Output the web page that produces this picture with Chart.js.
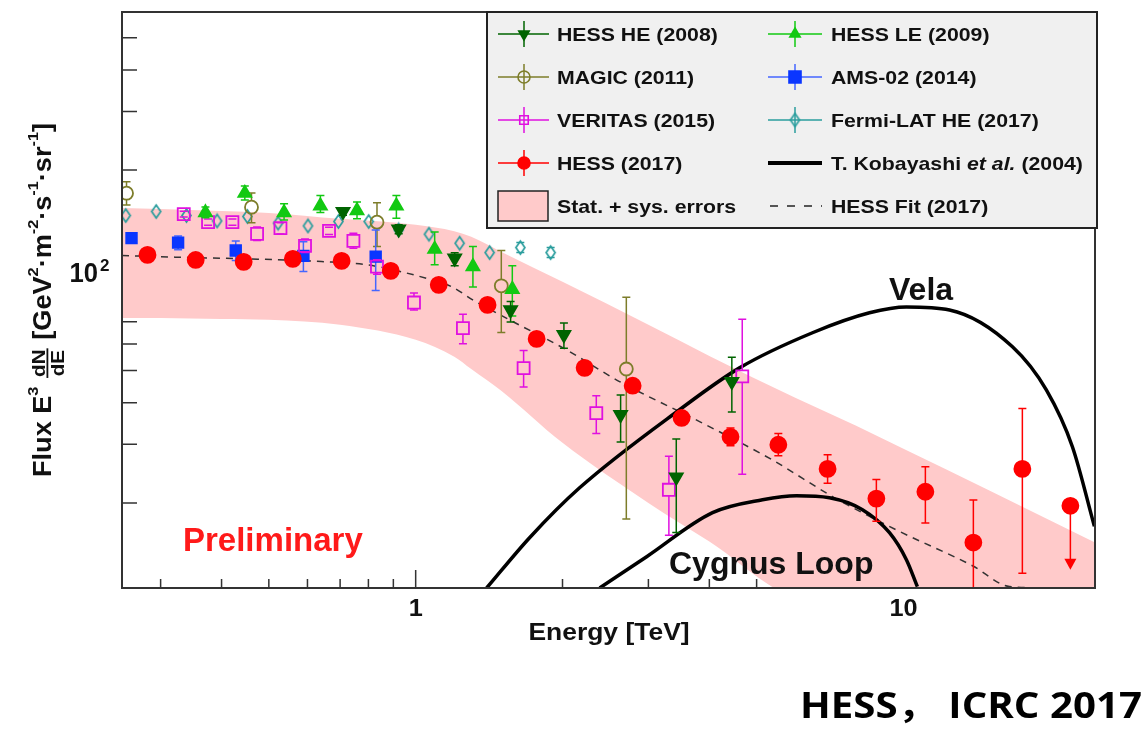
<!DOCTYPE html>
<html lang="en">
<head>
<meta charset="UTF-8">
<title>Electron spectrum - HESS ICRC 2017</title>
<script src="https://cdn.jsdelivr.net/npm/chart.js"></script>
<style>
    html, body { margin: 0; padding: 0; background: #fff; }
    #wrap { position: relative; width: 1144px; height: 731px; }
</style>
</head>
<body>
<div id="wrap"><canvas id="spectrum" width="1144" height="731"></canvas></div>

<script>
// Energy in TeV, flux E^3 dN/dE in GeV^2 m^-2 s^-1 sr^-1

// HESS (2017)
const hessE    = [0.282, 0.354, 0.444, 0.560, 0.705, 0.889, 1.115, 1.404, 1.770, 2.220, 2.785, 3.509, 4.42, 5.54, 6.99, 8.80, 11.09, 13.91, 17.53, 21.99];
const hessFlux = [111.2, 107.4, 106.0, 108.2, 106.7, 99.6, 90.4, 78.7, 62.2, 50.9, 45.0, 36.0, 31.6, 29.9, 25.3, 20.6, 21.6, 15.2, 25.3, 19.6];
const hessLow  = [null, null, null, null, null, null, null, null, null, null, null, null, 29.7, 27.7, 22.9, 17.6, 17.4, 11.1, 12.3, 12.6];
const hessHigh = [null, null, null, null, null, null, null, null, null, null, null, null, 33.6, 32.3, 27.9, 23.5, 25.7, 20.4, 38.4, null];
const hessLimit = [false, false, false, false, false, false, false, false, false, false, false, false, false, false, false, false, false, false, false, true];

// HESS HE (2008)
const hessHeE    = [0.7097, 0.9229, 1.2023, 1.5654, 2.0133, 2.6312, 3.4218, 4.448];
const hessHeFlux = [150.1, 132.9, 108.7, 76.0, 64.0, 36.8, 23.9, 46.3];
const hessHeLow  = [146.3, 128.8, 103.1, 69.9, 58.3, 30.5, 16.3, 37.5];
const hessHeHigh = [153.9, 137.1, 112.8, 80.5, 69.4, 42.2, 31.1, 54.8];

// HESS LE (2009)
const hessLeE    = [0.3707, 0.4464, 0.5373, 0.6378, 0.7581, 0.9130, 1.0938, 1.3103, 1.578];
const hessLeFlux = [149.0, 170.4, 149.0, 156.1, 151.1, 156.1, 115.7, 102.6, 87.7];
const hessLeLow  = [143.7, 162.7, 141.7, 149.0, 142.7, 143.4, 103.8, 89.0, 72.9];
const hessLeHigh = [155.0, 179.2, 158.3, 167.6, 160.5, 167.6, 130.4, 117.8, 103.1];

// MAGIC (2011)
const magicE    = [0.2554, 0.4607, 0.8331, 1.4981, 2.703];
const magicFlux = [170.4, 154.7, 139.5, 89.8, 50.5];
const magicLow  = [157.2, 138.8, 117.8, 65.0, 17.9];
const magicHigh = [184.6, 170.8, 159.4, 114.6, 83.0];

// AMS-02 (2014)
const amsE    = [0.2615, 0.3258, 0.4277, 0.5886, 0.828];
const amsFlux = [124.9, 121.1, 114.6, 110.5, 109.9];
const amsLow  = [120.9, 115.2, 106.9, 99.1, 86.9];
const amsHigh = [129.5, 126.8, 122.5, 121.9, 132.2];

// VERITAS (2015)
const veritasE    = [0.3346, 0.3753, 0.4210, 0.4730, 0.5282, 0.5931, 0.6643, 0.7453, 0.8331, 0.9920, 1.2500, 1.6645, 2.3457, 3.3045, 4.672];
const veritasFlux = [147.4, 139.5, 139.5, 128.6, 133.8, 118.4, 131.3, 122.5, 102.6, 80.0, 67.0, 50.8, 37.2, 21.9, 48.0];
const veritasLow  = [144.5, 136.5, 136.5, 122.8, 128.6, 113.0, 128.0, 116.5, 97.3, 76.0, 60.1, 44.6, 32.3, 16.0, 24.4];
const veritasHigh = [150.4, 142.5, 142.5, 135.0, 138.8, 124.2, 134.6, 129.2, 107.5, 85.4, 73.8, 57.4, 42.0, 27.6, 71.3];

// Fermi-LAT HE (2017)
const fermiE    = [0.2545, 0.2937, 0.3389, 0.3916, 0.4519, 0.5223, 0.6015, 0.6944, 0.8011, 0.9229, 1.0648, 1.2307, 1.4180, 1.6388, 1.8909];
const fermiFlux = [146.0, 150.1, 146.0, 140.7, 145.0, 138.5, 135.9, 140.1, 140.1, 132.2, 128.3, 120.6, 113.0, 117.0, 113.0];
const fermiLow  = [null, null, null, null, null, null, null, null, null, null, null, null, null, 113.0, 109.2];
const fermiHigh = [null, null, null, null, null, null, null, null, null, null, null, null, null, 121.1, 117.0];

// HESS fit (2017), dashed
const fitE    = [0.25, 0.3208, 0.4746, 0.641, 0.797, 0.9494, 1.077, 1.184, 1.309, 1.534, 2.036, 2.618, 3.819, 5.39, 7.152, 9.66, 13.85, 16.49, 20, 24.7];
const fitFlux = [110.7, 109.5, 108.0, 106.2, 103.8, 98.4, 93.6, 89.3, 81.5, 71.8, 57.7, 46.3, 35.1, 26.9, 20.9, 16.6, 12.95, 11.22, 11.1, 11.1];

// Stat. + sys. error band
const bandE    = [0.25, 0.3, 0.4, 0.5, 0.7, 1, 1.2, 1.3, 1.5, 2, 3, 4, 6, 8, 10, 15, 20, 24.7];
const bandHigh = [153.9, 152.9, 150.8, 148.7, 142.7, 136.9, 130.9, 126.0, 113.5, 92.3, 68.6, 55.3, 41.4, 34.1, 29.1, 21.8, 17.7, 15.2];
const bandLow  = [71.9, 71.9, 71.4, 71.0, 68.6, 61.8, 55.0, 50.5, 43.4, 30.3, 20.0, 15.3, 10.4, 10, 10, 10, 10, 10];

// T. Kobayashi et al. (2004) sources
const velaE    = [1.398, 1.712, 2.168, 3.475, 4.613, 6.509, 8.518, 10.14, 12.43, 16.73, 19.63, 22.20, 24.63];
const velaFlux = [11.1, 15.72, 22.2, 38.1, 50.9, 64.9, 74.5, 77.6, 76.0, 58.9, 43.7, 29.5, 17.0];
const cygE     = [2.383, 2.975, 4.061, 5.142, 6.035, 7.052, 8.241, 9.362, 10.14, 10.68];
const cygFlux  = [11.1, 13.78, 18.69, 20.43, 21.01, 20.72, 19.08, 16.27, 13.5, 11.2];

// axes
const xMajorTicks = [1, 10];
const xTickLabels = ['1', '10'];
const xMinorTicks = [0.3, 0.4, 0.5, 0.6, 0.7, 0.8, 0.9, 2, 3, 4, 5, 6, 7, 8, 9, 20];
const yMajorTicks = [100];
const yTickLabels = [['10', '2']];
const yMinorTicks = [20, 30, 40, 50, 60, 70, 80, 90, 200, 300, 400, 500];

const ROOT_FONT = '"Liberation Sans", Arial, sans-serif';
const C = {
    hess: '#ff0000', hessHe: '#006400', hessLe: '#12c912', magic: '#7d7d2a',
    ams: '#0a36ff', amsErr: '#4466ff', veritas: '#e010e0', fermi: '#2a9d9d', band: '#ffcaca'
};

const pts = (xs, ys) => xs.map((e, i) => ({ x: e, y: ys[i] }));

function stretchText(ctx, text, x, y, font, sx, align) {
    ctx.save();
    ctx.font = font;
    ctx.textAlign = align || 'left';
    ctx.textBaseline = 'alphabetic';
    ctx.translate(x, y);
    ctx.scale(sx, 1);
    ctx.fillText(text, 0, 0);
    ctx.restore();
}

// narrow open diamond like ROOT marker 27
function diamondImage(color, w, h) {
    const cv = document.createElement('canvas');
    cv.width = w + 4; cv.height = h + 4;
    const g = cv.getContext('2d');
    g.strokeStyle = color; g.lineWidth = 1.7;
    g.beginPath();
    g.moveTo(cv.width / 2, 2); g.lineTo(cv.width - 2, cv.height / 2);
    g.lineTo(cv.width / 2, cv.height - 2); g.lineTo(2, cv.height / 2);
    g.closePath(); g.stroke();
    return cv;
}
const fermiDiamond = diamondImage(C.fermi, 9, 13);

// legend markers, same shapes as the chart points
function drawMarker(ctx, shape, x, y, r, color, filled, rot) {
    if (shape === 'diamond') {
        ctx.drawImage(fermiDiamond, x - fermiDiamond.width / 2, y - fermiDiamond.height / 2);
        return;
    }
    ctx.save();
    ctx.beginPath();
    if (shape === 'circle') {
        ctx.arc(x, y, r, 0, Math.PI * 2);
    } else if (shape === 'rect') {
        const s = r * Math.SQRT1_2;
        ctx.rect(x - s, y - s, 2 * s, 2 * s);
    } else if (shape === 'triangle') {
        let a = (rot || 0) * Math.PI / 180;
        for (let k = 0; k < 3; k++) {
            const px = x + Math.sin(a) * r, py = y - Math.cos(a) * r;
            k ? ctx.lineTo(px, py) : ctx.moveTo(px, py);
            a += Math.PI * 2 / 3;
        }
        ctx.closePath();
    }
    if (filled) { ctx.fillStyle = color; ctx.fill(); }
    ctx.strokeStyle = color; ctx.lineWidth = 1.6; ctx.stroke();
    ctx.restore();
}

const legendRows = [34, 77, 120, 163, 206];
const legendItems = [
    { col: 0, row: 0, text: 'HESS HE (2008)', color: C.hessHe, shape: 'triangle', rot: 180, filled: true },
    { col: 1, row: 0, text: 'HESS LE (2009)', color: C.hessLe, shape: 'triangle', rot: 0, filled: true },
    { col: 0, row: 1, text: 'MAGIC (2011)', color: C.magic, shape: 'circle', filled: false },
    { col: 1, row: 1, text: 'AMS-02 (2014)', color: C.ams, shape: 'rect', filled: true, line: C.amsErr },
    { col: 0, row: 2, text: 'VERITAS (2015)', color: C.veritas, shape: 'rect', filled: false },
    { col: 1, row: 2, text: 'Fermi-LAT HE (2017)', color: C.fermi, shape: 'diamond', filled: false },
    { col: 0, row: 3, text: 'HESS (2017)', color: C.hess, shape: 'circle', filled: true },
    { col: 1, row: 3, text: 'kobayashi' },
    { col: 0, row: 4, text: 'Stat. + sys. errors' },
    { col: 1, row: 4, text: 'HESS Fit (2017)' }
];

const rootStyle = {
    id: 'rootStyle',
    beforeDatasetsDraw(chart) {
        const { ctx, chartArea: a, scales: { x, y } } = chart;
        ctx.save();
        ctx.strokeStyle = '#333';
        ctx.lineWidth = 1.5;
        ctx.beginPath();
        xMinorTicks.forEach(v => { const p = x.getPixelForValue(v); ctx.moveTo(p, a.bottom); ctx.lineTo(p, a.bottom - 9); });
        xMajorTicks.forEach(v => { const p = x.getPixelForValue(v); ctx.moveTo(p, a.bottom); ctx.lineTo(p, a.bottom - 18); });
        yMinorTicks.forEach(v => { const p = y.getPixelForValue(v); ctx.moveTo(a.left, p); ctx.lineTo(a.left + 15, p); });
        yMajorTicks.forEach(v => { const p = y.getPixelForValue(v); ctx.moveTo(a.left, p); ctx.lineTo(a.left + 30, p); });
        ctx.stroke();
        ctx.restore();
    },
    // error bars go under their own markers, ROOT style with end caps
    beforeDatasetDraw(chart, args) {
        const ds = chart.data.datasets[args.index];
        if (!ds.errLow) return;
        const { ctx, chartArea: a, scales: { x, y } } = chart;
        const gap = ds.errGap || 0;
        ctx.save();
        ctx.beginPath();
        ctx.rect(a.left, a.top, a.right - a.left, a.bottom - a.top);
        ctx.clip();
        ctx.strokeStyle = ds.errColor || ds.borderColor;
        ctx.fillStyle = ds.errColor || ds.borderColor;
        ctx.lineWidth = 1.5;
        ds.data.forEach((p, i) => {
            const px = x.getPixelForValue(p.x), py = y.getPixelForValue(p.y);
            const lo = ds.errLow[i], hi = ds.errHigh[i];
            if (ds.limit && ds.limit[i]) {
                const tip = y.getPixelForValue(lo);
                ctx.beginPath();
                ctx.moveTo(px, py); ctx.lineTo(px, tip - 8); ctx.stroke();
                ctx.beginPath();
                ctx.moveTo(px - 6, tip - 11); ctx.lineTo(px + 6, tip - 11); ctx.lineTo(px, tip); ctx.closePath(); ctx.fill();
                return;
            }
            if (lo == null || hi == null) return;
            const y1 = y.getPixelForValue(hi), y2 = y.getPixelForValue(lo);
            ctx.beginPath();
            if (py - gap > y1) { ctx.moveTo(px, y1); ctx.lineTo(px, py - gap); }
            if (py + gap < y2) { ctx.moveTo(px, py + gap); ctx.lineTo(px, y2); }
            ctx.moveTo(px - 4, y1); ctx.lineTo(px + 4, y1);
            ctx.moveTo(px - 4, y2); ctx.lineTo(px + 4, y2);
            ctx.stroke();
        });
        ctx.restore();
    },
    afterDatasetsDraw(chart) {
        const { ctx, chartArea: a } = chart;
        ctx.save();
        ctx.strokeStyle = '#333';
        ctx.lineWidth = 2;
        ctx.strokeRect(a.left, a.top, a.right - a.left, a.bottom - a.top);
        ctx.restore();
    },
    afterDraw(chart) {
        const { ctx, scales: { x, y } } = chart;
        ctx.save();
        ctx.fillStyle = '#111';

        // tick labels
        xMajorTicks.forEach((v, i) => stretchText(ctx, xTickLabels[i], x.getPixelForValue(v), 616, 'bold 23px ' + ROOT_FONT, 1.1, 'center'));
        yMajorTicks.forEach((v, i) => {
            const p = y.getPixelForValue(v);
            stretchText(ctx, yTickLabels[i][0], 98, p + 12, 'bold 27px ' + ROOT_FONT, 0.95, 'right');
            stretchText(ctx, yTickLabels[i][1], 100, p + 1, 'bold 17px ' + ROOT_FONT, 1, 'left');
        });

        // axis titles
        stretchText(ctx, 'Energy [TeV]', 609, 640, 'bold 23px ' + ROOT_FONT, 1.15, 'center');
        drawYTitle(ctx);

        // annotations
        ctx.fillStyle = '#ff1a1a';
        stretchText(ctx, 'Preliminary', 183, 551, 'bold 33px ' + ROOT_FONT, 1, 'left');
        ctx.fillStyle = '#111';
        stretchText(ctx, 'Vela', 889, 300, 'bold 32px ' + ROOT_FONT, 1, 'left');
        stretchText(ctx, 'Cygnus Loop', 669, 574, 'bold 32px ' + ROOT_FONT, 1, 'left');

        // slide caption, fitted to its width in the picture
        const capFont = 'bold 35px "Open Sans", "Noto Sans CJK SC", sans-serif';
        const caption = 'HESS\uff0c ICRC 2017';
        ctx.font = capFont;
        const capScale = 342 / ctx.measureText(caption).width;
        ctx.fillStyle = '#000';
        stretchText(ctx, caption, 1142, 718, capFont, capScale, 'right');

        drawLegend(ctx);
        ctx.restore();
    }
};

function drawYTitle(ctx) {
    const main = 'bold 25px ' + ROOT_FONT, sup = 'bold 15px ' + ROOT_FONT, frac = 'bold 19px ' + ROOT_FONT;
    const parts = [
        ['Flux E', main, 0], ['3', sup, -13], [' ', main, 0], ['frac'],
        [' [GeV', main, 0], ['2', sup, -13], ['\u00b7m', main, 0], ['-2', sup, -13],
        ['\u00b7s', main, 0], ['-1', sup, -13], ['\u00b7sr', main, 0], ['-1', sup, -13], [']', main, 0]
    ];
    ctx.save();
    ctx.font = frac;
    const fracW = Math.max(ctx.measureText('dN').width, ctx.measureText('dE').width) + 4;
    let total = 0;
    parts.forEach(p => { if (p[0] === 'frac') { total += fracW; } else { ctx.font = p[1]; total += ctx.measureText(p[0]).width; } });
    const sx = 354 / total;
    ctx.translate(51, 477);
    ctx.rotate(-Math.PI / 2);
    ctx.scale(sx, 1);
    ctx.fillStyle = '#111';
    ctx.textBaseline = 'alphabetic';
    ctx.textAlign = 'left';
    let cx = 0;
    parts.forEach(p => {
        if (p[0] === 'frac') {
            ctx.font = frac;
            ctx.textAlign = 'center';
            ctx.fillText('dN', cx + fracW / 2, -6);
            ctx.fillText('dE', cx + fracW / 2, 13);
            ctx.fillRect(cx + 1, -4.5, fracW - 2, 1.8);
            ctx.textAlign = 'left';
            cx += fracW;
            return;
        }
        ctx.font = p[1];
        ctx.fillText(p[0], cx, p[2]);
        cx += ctx.measureText(p[0]).width;
    });
    ctx.restore();
}

function drawLegend(ctx) {
    const box = { left: 487, top: 12, right: 1097, bottom: 228 };
    const cols = [{ l0: 498, l1: 549, m: 524, t: 557 }, { l0: 768, l1: 822, m: 795, t: 831 }];
    const font = 'bold 19px ' + ROOT_FONT, sx = 1.12;
    ctx.save();
    ctx.fillStyle = '#f0f0f0';
    ctx.fillRect(box.left, box.top, box.right - box.left, box.bottom - box.top);
    ctx.strokeStyle = '#222';
    ctx.lineWidth = 2;
    ctx.strokeRect(box.left, box.top, box.right - box.left, box.bottom - box.top);

    legendItems.forEach(it => {
        const c = cols[it.col], yc = legendRows[it.row];
        ctx.fillStyle = '#111';
        if (it.shape) {
            ctx.strokeStyle = it.line || it.color;
            ctx.lineWidth = 1.5;
            ctx.beginPath();
            ctx.moveTo(c.l0, yc); ctx.lineTo(c.l1, yc);
            ctx.moveTo(c.m, yc - 13); ctx.lineTo(c.m, yc + 13);
            ctx.stroke();
            drawMarker(ctx, it.shape, c.m, yc, it.shape === 'rect' && it.filled ? 8.5 : 6, it.color, it.filled, it.rot);
            stretchText(ctx, it.text, c.t, yc + 7, font, sx, 'left');
        } else if (it.text === 'kobayashi') {
            ctx.strokeStyle = '#000';
            ctx.lineWidth = 4;
            ctx.beginPath(); ctx.moveTo(c.l0, yc); ctx.lineTo(c.l1, yc); ctx.stroke();
            let cx = c.t;
            [['T. Kobayashi ', font], ['et al.', 'italic ' + font], [' (2004)', font]].forEach(seg => {
                ctx.font = seg[1];
                stretchText(ctx, seg[0], cx, yc + 7, seg[1], sx, 'left');
                cx += ctx.measureText(seg[0]).width * sx;
            });
        } else if (it.col === 0) {
            ctx.fillStyle = C.band;
            ctx.fillRect(498, yc - 15, 50, 30);
            ctx.strokeStyle = '#222'; ctx.lineWidth = 1.5;
            ctx.strokeRect(498, yc - 15, 50, 30);
            ctx.fillStyle = '#111';
            stretchText(ctx, it.text, c.t, yc + 7, font, sx, 'left');
        } else {
            ctx.strokeStyle = '#222'; ctx.lineWidth = 1.5;
            ctx.setLineDash([8, 9]);
            ctx.beginPath(); ctx.moveTo(c.l0 + 2, yc); ctx.lineTo(c.l1, yc); ctx.stroke();
            ctx.setLineDash([]);
            stretchText(ctx, it.text, c.t, yc + 7, font, sx, 'left');
        }
    });
    ctx.restore();
}

const marker = (data, color, style, r, filled, extra) => Object.assign({
    data: data, showLine: false, pointStyle: style, pointRadius: r, pointHoverRadius: r,
    borderColor: color, backgroundColor: filled ? color : 'rgba(0,0,0,0)', pointBorderWidth: 1.8
}, extra);

const curve = (data, color, width, dash, order) => ({
    data: data, showLine: true, pointRadius: 0, borderColor: color, borderWidth: width,
    borderDash: dash, cubicInterpolationMode: 'monotone', fill: false, order: order
});

new Chart(document.getElementById('spectrum'), {
    type: 'scatter',
    data: {
        datasets: [
            { data: pts(bandE, bandLow), showLine: true, pointRadius: 0, borderColor: 'rgba(0,0,0,0)', borderWidth: 1,
              cubicInterpolationMode: 'monotone', fill: false, order: 100 },
            { data: pts(bandE, bandHigh), showLine: true, pointRadius: 0, borderColor: 'rgba(0,0,0,0)', borderWidth: 1,
              cubicInterpolationMode: 'monotone', fill: '-1', backgroundColor: C.band, order: 99 },
            curve(pts(fitE, fitFlux), '#333', 1.5, [7, 6], 90),
            curve(pts(velaE, velaFlux), '#000', 3.5, [], 80),
            curve(pts(cygE, cygFlux), '#000', 3.5, [], 80),
            marker(pts(fermiE, fermiFlux), C.fermi, fermiDiamond, 7, false, { errLow: fermiLow, errHigh: fermiHigh, errGap: 8, order: 7 }),
            marker(pts(magicE, magicFlux), C.magic, 'circle', 6.5, false, { errLow: magicLow, errHigh: magicHigh, errGap: 6.5, order: 6 }),
            marker(pts(amsE, amsFlux), C.ams, 'rect', 7.5, true, { errLow: amsLow, errHigh: amsHigh, errColor: C.amsErr, errGap: 5, order: 5 }),
            marker(pts(veritasE, veritasFlux), C.veritas, 'rect', 8.5, false, { errLow: veritasLow, errHigh: veritasHigh, errGap: 6, order: 4 }),
            marker(pts(hessLeE, hessLeFlux), C.hessLe, 'triangle', 7.5, true, { errLow: hessLeLow, errHigh: hessLeHigh, order: 3 }),
            marker(pts(hessHeE, hessHeFlux), C.hessHe, 'triangle', 7.5, true, { rotation: 180, errLow: hessHeLow, errHigh: hessHeHigh, order: 2 }),
            marker(pts(hessE, hessFlux), C.hess, 'circle', 8, true, { errLow: hessLow, errHigh: hessHigh, limit: hessLimit, order: 1 })
        ]
    },
    options: {
        responsive: false,
        devicePixelRatio: 1,
        animation: false,
        events: [],
        layout: { padding: { left: 122, right: 49, top: 12, bottom: 143 } },
        scales: {
            x: { type: 'logarithmic', min: 0.25, max: 24.7, display: false },
            y: { type: 'logarithmic', min: 11.1, max: 597, display: false }
        },
        plugins: {
            legend: { display: false },
            tooltip: { enabled: false },
            filler: { propagate: false }
        }
    },
    plugins: [rootStyle]
});
</script>
</body>
</html>
